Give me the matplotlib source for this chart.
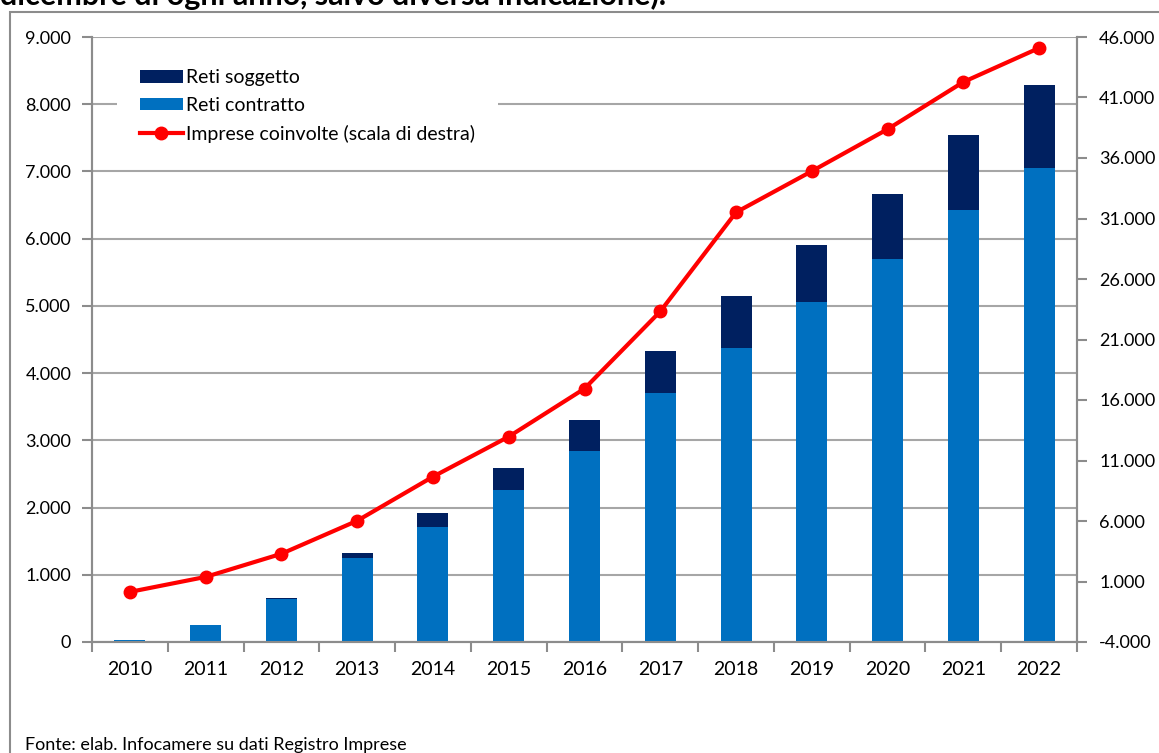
import matplotlib
import matplotlib.pyplot as plt
from matplotlib.patches import Rectangle
from matplotlib.ticker import FuncFormatter, FixedLocator, MultipleLocator

matplotlib.use("Agg")

plt.rcParams["font.family"] = ["Lato", "DejaVu Sans"]

# Data
years = ["2010", "2011", "2012", "2013", "2014", "2015", "2016",
         "2017", "2018", "2019", "2020", "2021", "2022"]
reti_contratto = [30, 250, 640, 1254, 1714, 2265, 2846, 3711, 4367, 5052, 5693, 6423, 7049]
reti_soggetto = [0, 0, 10, 74, 208, 328, 462, 611, 774, 850, 969, 1118, 1237]
imprese_coinvolte = [140, 1380, 3290, 6020, 9660, 12970, 16940, 23320, 31510, 34910, 38380, 42280, 45090]
right_ticks = list(range(-4000, 46001, 5000))

col_soggetto = "#002060"
col_contratto = "#0070C0"
col_line = "#FF0000"
col_axis = "#8C8C8C"


def thousands(v, pos):
    return f"{int(v):,}".replace(",", ".")


fig = plt.figure(figsize=(11.59, 7.53), dpi=100)
ax = fig.add_axes([92 / 1159, 1 - 642 / 753, 985 / 1159, 605 / 753])
ax2 = ax.twinx()

x = list(range(len(years)))
ax.bar(x, reti_contratto, width=0.41, color=col_contratto, label="Reti contratto", zorder=3)
ax.bar(x, reti_soggetto, width=0.41, bottom=reti_contratto, color=col_soggetto,
       label="Reti soggetto", zorder=3)
ax2.plot(x, imprese_coinvolte, color=col_line, lw=3, marker="o", ms=9,
         label="Imprese coinvolte (scala di destra)", zorder=4)

# left axis
ax.set_ylim(0, 9000)
ax.yaxis.set_major_locator(MultipleLocator(1000))
ax.yaxis.set_major_formatter(FuncFormatter(thousands))
ax.grid(True, axis="y", color="#A6A6A6", lw=1.5, zorder=0)

# right axis
ax2.set_ylim(-4000, 46000)
ax2.yaxis.set_major_locator(FixedLocator(right_ticks))
ax2.yaxis.set_major_formatter(FuncFormatter(thousands))

# category axis with ticks between categories
ax.set_xlim(-0.5, len(years) - 0.5)
ax.set_xticks(x)
ax.set_xticklabels(years)
ax.set_xticks([i - 0.5 for i in range(len(years) + 1)], minor=True)
ax.tick_params(axis="x", which="major", length=0, pad=14, labelsize=14)
ax.tick_params(axis="x", which="minor", length=7, color=col_axis, width=1.5, direction="out")
ax.tick_params(axis="y", length=7, color=col_axis, width=1.5, pad=8, labelsize=13)
ax2.tick_params(axis="y", length=7, color=col_axis, width=1.5, pad=9, labelsize=13)

for a in (ax, ax2):
    a.spines["top"].set_visible(False)
    for s in ("left", "right", "bottom"):
        a.spines[s].set_color(col_axis)
        a.spines[s].set_linewidth(1.5)

# legend
h1, l1 = ax.get_legend_handles_labels()
h2, l2 = ax2.get_legend_handles_labels()
handles = [h1[1], h1[0], h2[0]]
labels = [l1[1], l1[0], l2[0]]
leg = ax2.legend(handles, labels, loc="upper left", bbox_to_anchor=(0.025, 0.985),
                 frameon=True, framealpha=1, edgecolor="none", fancybox=False,
                 fontsize=14, handlelength=2.2, handleheight=0.6, handletextpad=0.15,
                 labelspacing=0.55, borderpad=1.2, borderaxespad=0)
leg.set_zorder(10)

# outer frame and texts
fig.patches.append(Rectangle((10 / 1159, -0.05), 1.2, 1 - 12 / 753 + 0.05,
                             transform=fig.transFigure, fill=False,
                             edgecolor=col_axis, lw=1.5))
fig.text(0.0, 1 - 5 / 753, "dicembre di ogni anno, salvo diversa indicazione).",
         fontsize=22, fontweight="bold", va="baseline", ha="left")
fig.text(25 / 1159, 3 / 753, "Fonte: elab. Infocamere su dati Registro Imprese",
         fontsize=13, va="baseline", ha="left")

fig.savefig("out.png", dpi=100)
plt.close(fig)
